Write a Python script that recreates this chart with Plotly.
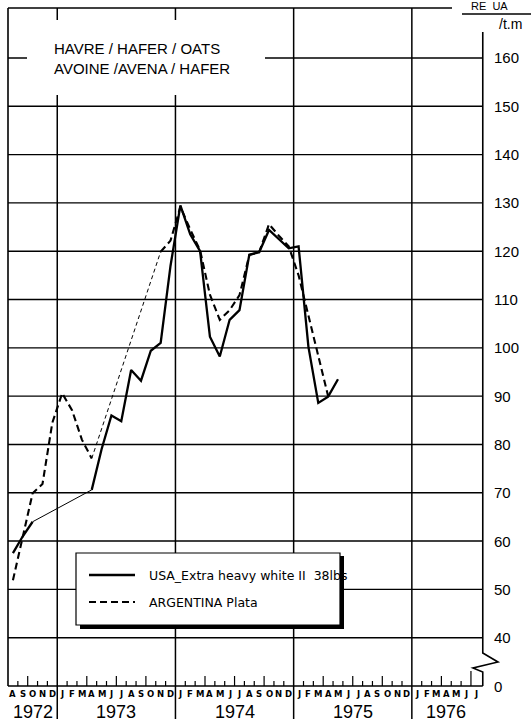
import plotly.graph_objects as go

# ---- data -----------------------------------------------------------------
# monthly index running Aug 1972 .. Jul 1976 (48 months)
MONTH_LETTERS = ("A S O N D "
                 "J F M A M J J A S O N D "
                 "J F M A M J J A S O N D "
                 "J F M A M J J A S O N D "
                 "J F M A M J J").split()
YEARS = ["1972", "1973", "1974", "1975", "1976"]
YEAR_STARTS = [0, 5, 17, 29, 41]          # month index where each year begins
YEAR_ENDS = [5, 17, 29, 41, 48]

# UA per metric ton, monthly averages (None = no quotation)
USA_EXTRA_HEAVY_WHITE = [
    57.5, 61.0, 64.0, None, None,
    None, None, None, 70.6, 79.0, 86.0, 84.8, 95.4, 93.2, 99.4, 101.0, 117.0,
    129.5, 123.5, 120.0, 102.3, 98.2, 105.8, 107.8, 119.3, 119.8, 124.4, 122.6, 120.6,
    121.0, 100.2, 88.6, 89.9, 93.5, None, None, None, None, None, None, None,
    None, None, None, None, None, None, None,
]
ARGENTINA_PLATA = [
    51.9, 61.0, 69.9, 71.8, 84.5,
    90.6, 87.1, 81.0, 77.1, None, None, None, None, None, None, 119.9, 122.2,
    129.2, 124.5, 120.2, 111.0, 105.8, 107.8, 110.9, 119.2, 119.8, 125.6, 123.2, 121.0,
    115.0, 106.5, 98.2, 90.0, None, None, None, None, None, None, None, None,
    None, None, None, None, None, None, None,
]

SERIES_NAMES = ["USA_Extra heavy white II  38lbs", "ARGENTINA Plata"]

GRID_VALUES = [40, 50, 60, 70, 80, 90, 100, 110, 120, 130, 140, 150, 160]
TICK_VALUES = [30] + GRID_VALUES          # 30 sits on the broken-axis baseline
TICK_TEXT = ["0"] + [str(v) for v in GRID_VALUES]

TITLE_LINES = ["HAVRE / HAFER / OATS", "AVOINE /AVENA / HAFER"]
UNIT_LINES = ["RE  UA", "/t.m"]

# ---- geometry helpers ---------------------------------------------------------
W, H = 531, 723
X0, MW = 8.0, 9.85          # pixel of month 0, pixels per month
Y30, PU = 686.0, 4.831      # pixel of the baseline value, pixels per unit


def xd(px):
    return (px - X0) / MW


def yd(py):
    return 30 + (Y30 - py) / PU


X_RIGHT = 48.2              # right-hand value axis
Y_TOP = yd(8)

NARROW = "Liberation Sans Narrow, Liberation Sans, Arial Narrow, sans-serif"
SANS = "Liberation Sans, Arial, sans-serif"
DEJAVU = "DejaVu Sans, sans-serif"

months = [i + 0.5 for i in range(len(MONTH_LETTERS))]

fig = go.Figure()


def add_series(values, dash, width, thin_dash):
    xs = months
    fig.add_trace(go.Scatter(
        x=xs, y=values, mode="lines", connectgaps=False, showlegend=False,
        line=dict(color="black", width=width, dash=dash),
        hoverinfo="skip"))
    # thin connectors across gaps in the quotations
    valid = [i for i, v in enumerate(values) if v is not None]
    for a, b in zip(valid[:-1], valid[1:]):
        if b - a > 1:
            fig.add_trace(go.Scatter(
                x=[xs[a], xs[b]], y=[values[a], values[b]], mode="lines",
                showlegend=False, hoverinfo="skip",
                line=dict(color="black", width=1.0, dash=thin_dash)))


add_series(USA_EXTRA_HEAVY_WHITE, "solid", 2.3, "solid")
add_series(ARGENTINA_PLATA, "7px,4px", 2.1, "4px,3px")

shapes = []


def line(x0, y0, x1, y1, w=1.4, layer="below", dash="solid"):
    shapes.append(dict(type="line", xref="x", yref="y", x0=x0, y0=y0, x1=x1, y1=y1,
                       line=dict(color="black", width=w, dash=dash), layer=layer))


def rect(x0, y0, x1, y1, fill, lw=0, layer="below"):
    shapes.append(dict(type="rect", xref="x", yref="y", x0=x0, y0=y0, x1=x1, y1=y1,
                       fillcolor=fill, line=dict(color="black", width=lw), layer=layer))


# horizontal grid
for v in GRID_VALUES:
    line(0, v, X_RIGHT, v, 1.4)
# baseline, left and top frame
line(0, 30, X_RIGHT, 30, 1.7)
line(0, 30, 0, Y_TOP, 1.6)
line(0, Y_TOP, xd(452), Y_TOP, 1.4)
# year separators, running below the baseline between the year labels
for b in YEAR_STARTS[1:]:
    line(b, Y_TOP, b, yd(719), 1.5)
# month ticks on the baseline, longer at quarter starts
for k in range(1, 48):
    if k in YEAR_STARTS:
        continue
    cal = (k + 7) % 12          # 0 = January
    h = 10 if cal in (0, 3, 6, 9) else 5
    if k == 47:
        h = 15
    line(k, 30, k, yd(Y30 - h), 1.2)
# right-hand value axis with the break between 40 and 0
shapes.append(dict(
    type="path", xref="x", yref="y", layer="below",
    path=(f"M {X_RIGHT},{yd(32)} L {X_RIGHT},{yd(653)} L {xd(498)},{yd(662)} "
          f"L {xd(473)},{yd(668)} L {X_RIGHT},{yd(672)} L {X_RIGHT},30"),
    line=dict(color="black", width=1.6)))

# blank panel behind the title
rect(xd(27), yd(95), xd(265), yd(20), "white")

# legend panel with drop shadow
rect(xd(80), yd(629), xd(344), yd(556), "black")
rect(xd(76), yd(625), xd(340), yd(553), "white", lw=1.2)
line(xd(89), yd(575), xd(135), yd(575), 2.3, layer="above")
line(xd(89), yd(602), xd(135), yd(602), 2.1, layer="above", dash="7px,4px")

# unit header underline
line(xd(462), yd(14), xd(531), yd(14), 1.4)

annotations = []


def text(x, y, s, size, family, xanchor="left", yanchor="middle", bold=False):
    annotations.append(dict(
        x=x, y=y, xref="x", yref="y", text=s, showarrow=False,
        xanchor=xanchor, yanchor=yanchor, borderpad=0,
        font=dict(size=size, family=family, color="black",
                  weight="bold" if bold else "normal")))


for i, t in enumerate(TITLE_LINES):
    text(xd(53), yd(48 + 20.5 * i), t, 15, SANS)

for v, t in zip(TICK_VALUES, TICK_TEXT):
    text(xd(493), v, t, 15, NARROW)

for m, ch in zip(months, MONTH_LETTERS):
    text(m, yd(694), ch, 8.5, DEJAVU, xanchor="center", bold=True)

for y, s0, s1 in zip(YEARS, YEAR_STARTS, YEAR_ENDS):
    text((s0 + s1) / 2, yd(712), y, 18, NARROW, xanchor="center")

text(xd(148), yd(575), SERIES_NAMES[0], 12.5, DEJAVU)
text(xd(148), yd(602), SERIES_NAMES[1], 12.5, DEJAVU)

text(xd(470), yd(13.5), UNIT_LINES[0], 11, SANS, yanchor="bottom")
text(xd(498), yd(24), UNIT_LINES[1], 14, SANS)

fig.update_layout(
    width=W, height=H,
    margin=dict(l=0, r=0, t=0, b=0),
    paper_bgcolor="white", plot_bgcolor="white",
    showlegend=False,
    xaxis=dict(range=[xd(0), xd(W)], domain=[0, 1], visible=False, fixedrange=True),
    yaxis=dict(range=[yd(H), yd(0)], domain=[0, 1], visible=False, fixedrange=True),
    shapes=shapes, annotations=annotations,
)

fig.write_html("out.html")
